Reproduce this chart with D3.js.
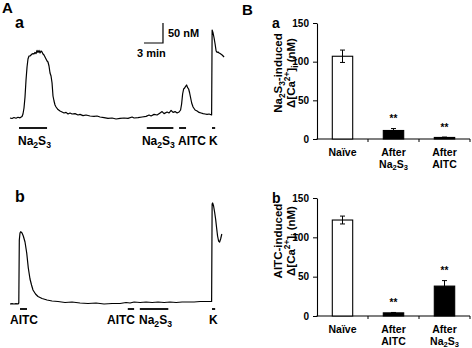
<!DOCTYPE html>
<html><head><meta charset="utf-8">
<script src="https://cdn.jsdelivr.net/npm/d3@7"></script>
<style>
body{margin:0;background:#fff}
svg{display:block}
text{font-family:"Liberation Sans",Arial,Helvetica,sans-serif;font-weight:bold;fill:#000}
</style>
</head><body><svg id="c" width="472" height="348"></svg>
<script>
// ---- Panel A traces: [time (min), [Ca2+]i (nM)] ----
const traceA = [[0,50],[0.32,48.8],[0.63,51.3],[0.95,49.5],[1.26,51.8],[1.58,50.5],[1.9,53.8],[2.05,60],[2.21,75],[2.37,102.5],[2.53,145],[2.69,177.5],[2.84,197.5],[3.0,205],[3.16,205],[3.32,207.5],[3.48,210],[3.63,211],[3.79,210],[3.95,214],[4.11,211],[4.27,219],[4.42,214],[4.58,219],[4.74,212.5],[4.9,217.5],[5.06,215],[5.21,210],[5.37,207.5],[5.53,202.5],[5.69,197.5],[5.85,192.5],[6.0,190],[6.16,180],[6.32,162.5],[6.48,155],[6.64,137.5],[6.79,105],[6.95,92.5],[7.11,82.5],[7.27,77.5],[7.58,71],[7.9,67.5],[8.22,65],[8.53,62.5],[8.85,64],[9.16,60],[9.48,62.5],[9.8,60],[10.27,61],[10.74,57.5],[11.06,59],[11.53,56],[12.01,57.5],[12.64,55],[13.27,54],[13.75,55],[14.22,52.5],[14.85,51],[15.48,49],[16.12,50],[16.75,47.5],[17.38,49],[18.01,50],[18.64,49],[19.28,52.5],[19.6,50],[20.22,51],[20.86,52.5],[21.49,54],[21.96,57.5],[22.28,55],[22.75,59],[23.23,57.5],[23.7,62.5],[24.02,66],[24.33,61],[24.81,65],[25.12,62.5],[25.44,69],[25.75,64],[26.07,66],[26.39,62.5],[26.7,65],[26.94,70],[27.1,85],[27.26,110],[27.42,122.5],[27.58,125],[27.73,129],[27.89,132.5],[28.05,126],[28.21,122.5],[28.37,112.5],[28.53,100],[28.69,87.5],[28.91,77.5],[29.23,70],[29.55,67.5],[29.86,64],[30.18,62.5],[30.49,61],[30.81,60],[31.13,59],[31.44,60],[31.84,57.5],[31.92,270],[32.07,262.5],[32.23,250],[32.39,235],[32.55,217.5],[32.71,214],[32.86,215],[33.02,212.5],[33.18,211],[33.5,207.5],[33.81,202.5]];
const traceB = [[0,50],[0.32,51],[0.63,50],[0.95,51],[1.26,50],[1.39,52.5],[1.47,210],[1.58,227.5],[1.69,230.8],[1.9,227.5],[2.1,220],[2.37,205],[2.64,177.5],[2.89,140],[3.16,112.5],[3.4,97.5],[3.63,85],[4.03,75],[4.42,68.8],[5.06,63.8],[5.85,60],[6.64,57.5],[7.58,56.3],[8.69,53.8],[9.8,55],[11.06,52.5],[12.32,51.3],[13.59,52.5],[14.85,50],[16.12,51.3],[17.38,51.3],[18.33,53.8],[18.96,52.5],[19.6,55],[20.54,53.8],[21.49,55],[22.44,53.8],[23.38,55],[24.33,53.8],[25.28,55],[26.23,53.8],[27.18,55],[28.12,55],[29.07,55],[30.02,56.3],[30.97,56.3],[31.84,56.3],[31.92,300],[32.0,302.5],[32.15,295],[32.31,280],[32.47,262.5],[32.63,240],[32.78,220],[32.94,207.5],[33.1,205],[33.26,212.5],[33.45,225]];

// stimulus application periods (min) and label start (min)
const stimLabelsA = ["Na{_2}S{_3}", "Na{_2}S{_3}", "AITC", "K"];
const stimStartA = [1.42, 21.6, 26.7, 31.9];
const stimEndA   = [5.85, 25.8, 27.8, 32.4];
const stimLabelAtA = [1.26, 20.84, 26.53, 31.42];
const stimLabelsB = ["AITC", "AITC", "Na{_2}S{_3}", "K"];
const stimStartB = [1.58, 18.6, 20.5, 31.9];
const stimEndB   = [2.69, 19.6, 25.0, 32.4];
const stimLabelAtB = [0, 15.32, 20.37, 31.42];

// scale bar: 3 min x 50 nM
const scaleBarTime = 3, scaleBarConc = 50;
const scaleBarOrigin = [21.16, 237.5];

// ---- Panel B bar charts ----
const yTicks = [0, 50, 100, 150];
const catsA = [["Naïve"], ["After", "Na{_2}S{_3}"], ["After", "AITC"]];
const valuesA = [107, 11, 2];
const errorsA = [8, 2.5, 0.5];
const sigA = ["", "**", "**"];
const catsB = [["Naïve"], ["After", "AITC"], ["After", "Na{_2}S{_3}"]];
const valuesB = [122, 4, 38];
const errorsB = [5, 0.5, 7];
const sigB = ["", "**", "**"];

const svg = d3.select("#c");

function rich(sel, s, size){
  const parts = s.split(/(\{[_^][^}]*\})/).filter(p => p);
  let shift = 0;
  parts.forEach(p => {
    let target = 0, fs = size, txt = p;
    if (p.startsWith("{_")) { target = size*0.28; fs = size*0.72; txt = p.slice(2,-1); }
    else if (p.startsWith("{^")) { target = -size*0.4; fs = size*0.72; txt = p.slice(2,-1); }
    sel.append("tspan").attr("dy", target - shift).attr("font-size", fs).text(txt);
    shift = target;
  });
  return sel;
}

// ---------- Panel A ----------
const xT = d3.scaleLinear().domain([0, 34]).range([10, 225.3]);
const yA = d3.scaleLinear().domain([50, 300]).range([118, 18]);
const yB = d3.scaleLinear().domain([50, 300]).range([304, 204]);
const line = (ys) => d3.line().x(d => xT(d[0])).y(d => ys(d[1]));

function trace(data, ys, starts, ends, labels, labelAt, barY, labelY){
  svg.append("path").datum(data).attr("d", line(ys)).attr("fill","none")
    .attr("stroke","#000").attr("stroke-width",1.2).attr("stroke-linejoin","round");
  starts.forEach((s,i) => {
    svg.append("line").attr("x1", xT(s)).attr("x2", xT(ends[i]))
      .attr("y1", barY).attr("y2", barY).attr("stroke","#000").attr("stroke-width",1.8);
    rich(svg.append("text").attr("x", xT(labelAt[i])).attr("y", labelY).attr("font-size",12), labels[i], 12);
  });
}
trace(traceA, yA, stimStartA, stimEndA, stimLabelsA, stimLabelAtA, 128, 144.5);
trace(traceB, yB, stimStartB, stimEndB, stimLabelsB, stimLabelAtB, 309, 324);

// scale bar
const sx0 = xT(scaleBarOrigin[0]), sx1 = xT(scaleBarOrigin[0] + scaleBarTime);
const sy0 = yA(scaleBarOrigin[1]), sy1 = yA(scaleBarOrigin[1] + scaleBarConc);
svg.append("path").attr("d", `M${sx0},${sy0}H${sx1}V${sy1}`).attr("fill","none")
  .attr("stroke","#000").attr("stroke-width",1.2);
svg.append("text").attr("x", sx1 + 5).attr("y", sy1 + 14).attr("font-size", 11).text("50 nM");
svg.append("text").attr("x", sx0 - 7).attr("y", sy0 + 13.5).attr("font-size", 11).text("3 min");

svg.append("text").attr("x", 2).attr("y", 13).attr("font-size", 15).text("A");
svg.append("text").attr("x", 15).attr("y", 28).attr("font-size", 16).text("a");
svg.append("text").attr("x", 15).attr("y", 202).attr("font-size", 16).text("b");

// ---------- Panel B ----------
svg.append("text").attr("x", 242).attr("y", 15).attr("font-size", 15).text("B");

function bars(cfg){
  const y = d3.scaleLinear().domain([0,150]).range([cfg.bottom, cfg.top]);
  const x = d3.scaleBand().domain(cfg.cats.map((c,i)=>i)).range([317, 470])
    .paddingInner(0.6).paddingOuter(0.3);
  const g = svg.append("g");
  const ax = g.append("g").attr("transform","translate(317,0)")
    .call(d3.axisLeft(y).tickValues(yTicks).tickSize(4).tickSizeOuter(0).tickPadding(4));
  ax.select(".domain").attr("stroke-width",1.1);
  ax.selectAll("text").attr("font-size",10).attr("font-family",null).attr("fill","#000");
  ax.attr("font-family", null);
  // x axis line and boundary ticks
  g.append("line").attr("x1",316.5).attr("x2",470).attr("y1",cfg.bottom).attr("y2",cfg.bottom)
    .attr("stroke","#000").attr("stroke-width",1.1);
  const step = x.step();
  cfg.cats.forEach((c,i) => {
    const bx = x(i) + x.bandwidth() + step*0.3;
    g.append("line").attr("x1",bx).attr("x2",bx).attr("y1",cfg.bottom).attr("y2",cfg.bottom+3)
      .attr("stroke","#000").attr("stroke-width",1);
  });
  cfg.values.forEach((v,i) => {
    const cx = x(i) + x.bandwidth()/2;
    g.append("rect").attr("x", x(i)).attr("width", x.bandwidth())
      .attr("y", y(v)).attr("height", y(0) - y(v))
      .attr("fill", i === 0 ? "#fff" : "#000").attr("stroke","#000").attr("stroke-width",1.1);
    const e = cfg.errors[i];
    g.append("path").attr("d",
      `M${cx},${y(v-e)}V${y(v+e)}M${cx-2.5},${y(v+e)}H${cx+2.5}M${cx-2.5},${y(v-e)}H${cx+2.5}`)
      .attr("stroke","#000").attr("stroke-width",1).attr("fill","none");
    if (cfg.sig[i]) g.append("text").attr("x", cx).attr("y", y(v+e) - 6.5)
      .attr("text-anchor","middle").attr("font-size",10).attr("fill","#444").text(cfg.sig[i]);
    cfg.cats[i].forEach((ln,j) => {
      rich(g.append("text").attr("x", cx).attr("y", cfg.bottom + 17 + j*11.5)
        .attr("text-anchor","middle").attr("font-size",10.5), ln, 10.5);
    });
  });
  // y label
  const yl = g.append("g").attr("transform", `translate(0,${cfg.labelY}) rotate(-90)`);
  rich(yl.append("text").attr("x",0).attr("y",282).attr("text-anchor","middle").attr("font-size",11.5), cfg.ylab[0], 11.5);
  rich(yl.append("text").attr("x",0).attr("y",295).attr("text-anchor","middle").attr("font-size",11.5), cfg.ylab[1], 11.5);
  g.append("text").attr("x", 272).attr("y", cfg.top + 5).attr("font-size", 14).text(cfg.letter);
}
// rotate(-90) maps local (x,y) to (y, -x); so put local y as horizontal position
function barsWrap(cfg){ bars(cfg); }

bars({top:23, bottom:139, cats:catsA, values:valuesA, errors:errorsA, sig:sigA,
  ylab:["Na{_2}S{_3}-induced","Δ[Ca{^2+}]{_i} (nM)"], labelY:73, letter:"a"});
bars({top:198, bottom:316, cats:catsB, values:valuesB, errors:errorsB, sig:sigB,
  ylab:["AITC-induced","Δ[Ca{^2+}]{_i} (nM)"], labelY:241, letter:"b"});
</script>
</body></html>
